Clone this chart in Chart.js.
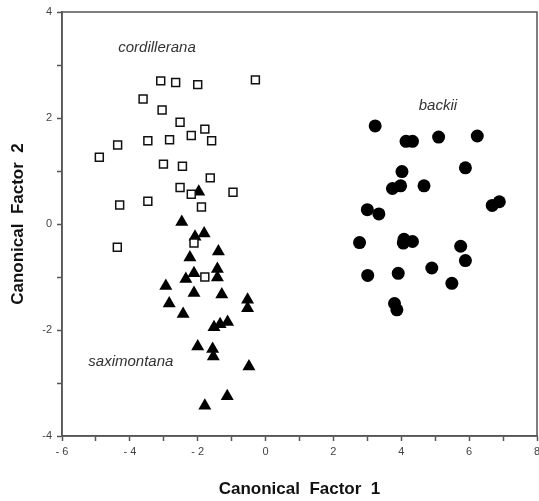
<!DOCTYPE html>
<html>
<head>
<meta charset="utf-8">
<script src="https://cdn.jsdelivr.net/npm/chart.js@4"></script>
<style>
  body { margin: 0; background: #fff; }
  canvas { display: block; }
</style>
</head>
<body>
<canvas id="CanonicalChart" width="539" height="501"></canvas>
<script>
// cordillerana (open squares)
const cordilleranaX = [-3.09, -2.65, -2.00, -0.30, -3.61, -3.05, -2.52, -1.79, -1.59, -2.19, -2.83, -3.47, -4.36,
    -4.90, -3.01, -2.45, -1.63, -2.52, -2.19, -0.96, -1.89, -3.47, -4.30, -4.37, -2.11, -1.79];
const cordilleranaY = [2.70, 2.67, 2.63, 2.72, 2.36, 2.15, 1.92, 1.79, 1.57, 1.67, 1.59, 1.57, 1.49,
    1.26, 1.13, 1.09, 0.87, 0.69, 0.56, 0.60, 0.32, 0.43, 0.36, -0.44, -0.36, -1.00];

// saximontana (filled triangles)
const saximontanaX = [-1.97, -2.47, -2.08, -1.81, -1.39, -2.23, -1.42, -1.42, -2.11, -2.35, -2.94, -2.11, -1.29,
    -2.84, -2.43, -0.53, -0.53, -1.12, -1.34, -1.52, -2.00, -1.56, -1.54, -0.49, -1.13, -1.79];
const saximontanaY = [0.61, 0.04, -0.24, -0.18, -0.52, -0.63, -0.85, -1.01, -0.93, -1.04, -1.17, -1.30, -1.33,
    -1.50, -1.70, -1.43, -1.59, -1.85, -1.89, -1.95, -2.31, -2.36, -2.50, -2.69, -3.25, -3.43];

// backii (filled circles)
const backiiX = [3.23, 4.14, 4.33, 5.10, 6.24, 4.02, 5.89, 3.74, 3.98, 4.67, 6.68, 6.89, 3.00,
    3.34, 2.77, 4.08, 4.06, 4.33, 5.75, 5.89, 3.01, 3.91, 4.90, 5.49, 3.80, 3.87];
const backiiY = [1.85, 1.56, 1.56, 1.64, 1.66, 0.99, 1.06, 0.67, 0.72, 0.72, 0.35, 0.42, 0.27,
    0.19, -0.35, -0.29, -0.36, -0.33, -0.42, -0.69, -0.97, -0.93, -0.83, -1.12, -1.50, -1.62];

const groupNames = ['cordillerana', 'backii', 'saximontana'];
const groupLabelX = [-3.20, 5.08, -3.97];
const groupLabelY = [3.32, 2.23, -2.60];

const xTicks = [-6, -4, -2, 0, 2, 4, 6, 8];
const yTicks = [-4, -2, 0, 2, 4];

function toPoints(xs, ys) {
    return xs.map((x, i) => ({ x: x, y: ys[i] }));
}

const frame = {
    id: 'frame',
    afterDatasetsDraw(chart) {
        const a = chart.chartArea;
        const ctx = chart.ctx;
        ctx.save();
        ctx.strokeStyle = '#555';
        ctx.lineWidth = 1.5;
        ctx.strokeRect(a.left, a.top, a.right - a.left, a.bottom - a.top);

        // group names
        ctx.fillStyle = '#333';
        ctx.font = 'italic 15px "Liberation Sans", Arial, sans-serif';
        ctx.textAlign = 'center';
        ctx.textBaseline = 'middle';
        groupNames.forEach((name, i) => {
            ctx.fillText(name, chart.scales.x.getPixelForValue(groupLabelX[i]),
                chart.scales.y.getPixelForValue(groupLabelY[i]));
        });
        ctx.restore();
    }
};

const ctx = document.getElementById('CanonicalChart');

new Chart(ctx, {
    type: 'scatter',
    data: {
        datasets: [{
            label: 'cordillerana',
            data: toPoints(cordilleranaX, cordilleranaY),
            pointStyle: 'rect',
            pointRadius: 5.6,
            backgroundColor: '#fff',
            borderColor: '#111',
            borderWidth: 1.5
        }, {
            label: 'saximontana',
            data: toPoints(saximontanaX, saximontanaY),
            pointStyle: 'triangle',
            pointRadius: 7.5,
            backgroundColor: '#000',
            borderColor: '#000',
            borderWidth: 0
        }, {
            label: 'backii',
            data: toPoints(backiiX, backiiY),
            pointStyle: 'circle',
            pointRadius: 6.5,
            backgroundColor: '#000',
            borderColor: '#000',
            borderWidth: 0
        }]
    },
    options: {
        responsive: false,
        animation: false,
        events: [],
        layout: { autoPadding: false, padding: { top: 12, right: 2, left: 0, bottom: 0 } },
        plugins: {
            legend: { display: false },
            tooltip: { enabled: false }
        },
        scales: {
            x: {
                type: 'linear',
                min: -6,
                max: 8,
                afterFit(scale) {
                    scale.height = 65;
                    scale.paddingLeft = 0;
                    scale.paddingRight = 0;
                },
                border: { color: '#555', width: 1.5 },
                grid: { drawOnChartArea: false, drawTicks: true, tickLength: 5, tickColor: '#555', tickWidth: 1.5 },
                ticks: {
                    stepSize: 1,
                    padding: 4,
                    color: '#444',
                    maxRotation: 0,
                    font: { family: '"Liberation Sans", Arial, sans-serif', size: 11 },
                    callback: (v) => xTicks.includes(v) ? (v < 0 ? '- ' + Math.abs(v) : String(v)) : ''
                },
                title: {
                    display: true,
                    text: 'Canonical  Factor  1',
                    color: '#111',
                    padding: { top: 0, bottom: 1 },
                    font: { family: '"Liberation Sans", Arial, sans-serif', size: 17, weight: 'bold' }
                }
            },
            y: {
                type: 'linear',
                min: -4,
                max: 4,
                afterFit(scale) {
                    scale.width = 62;
                    scale.paddingTop = 0;
                    scale.paddingBottom = 0;
                },
                border: { color: '#555', width: 1.5 },
                grid: { drawOnChartArea: false, drawTicks: true, tickLength: 5, tickColor: '#555', tickWidth: 1.5 },
                ticks: {
                    stepSize: 1,
                    padding: 5,
                    color: '#444',
                    font: { family: '"Liberation Sans", Arial, sans-serif', size: 11 },
                    callback: (v) => yTicks.includes(v) ? String(v) : ''
                },
                title: {
                    display: true,
                    text: 'Canonical  Factor  2',
                    color: '#111',
                    padding: { top: 8, bottom: 0 },
                    font: { family: '"Liberation Sans", Arial, sans-serif', size: 17, weight: 'bold' }
                }
            }
        }
    },
    plugins: [frame]
});
</script>
</body>
</html>
